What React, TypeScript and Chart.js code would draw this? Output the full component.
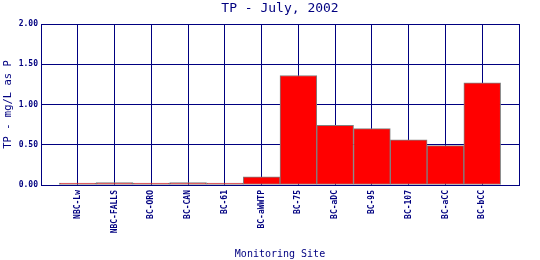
import React, { useEffect, useRef } from "react";
import { Chart, registerables } from "chart.js";

Chart.register(...registerables);

const sites = [
  "NBC-Lw",
  "NBC-FALLS",
  "BC-ORO",
  "BC-CAN",
  "BC-61",
  "BC-aWWTP",
  "BC-75",
  "BC-aDC",
  "BC-95",
  "BC-107",
  "BC-aCC",
  "BC-bCC",
];
const tpValues = [0.005, 0.03, 0, 0.03, 0, 0.1, 1.36, 0.74, 0.7, 0.56, 0.49, 1.27];
const yTicks = [0, 0.5, 1.0, 1.5, 2.0];

const NAVY = "#000080";
const FONT = "'DejaVu Sans Mono', 'Liberation Mono', monospace";

export default function App() {
  const ref = useRef<HTMLCanvasElement | null>(null);
  useEffect(() => {
    document.body.style.margin = "0";
    const ctx = ref.current!;
    const chart = new Chart(ctx, {
      type: "bar",
      data: {
        datasets: [
          {
            data: sites.map((s, i) => ({ x: i + 1, y: tpValues[i] })),
            backgroundColor: "#ff0000",
            borderColor: "#808080",
            borderWidth: 1,
            borderSkipped: false,
            minBarLength: 2,
            barPercentage: 1,
            categoryPercentage: 1,
          },
        ],
      },
      options: {
        animation: false,
        responsive: false,
        maintainAspectRatio: false,
        layout: { padding: { left: 0, right: 21, top: 0, bottom: 0 } },
        plugins: {
          legend: { display: false },
          tooltip: { enabled: false },
          title: {
            display: true,
            text: "TP - July, 2002",
            color: NAVY,
            fullSize: false,
            font: { family: FONT, size: 13, weight: "normal" },
            padding: { top: 1, bottom: 7.4 },
          },
        },
        scales: {
          x: {
            type: "linear",
            min: 0,
            max: sites.length + 1,
            offset: false,
            grid: { color: NAVY, lineWidth: 1, drawTicks: false, offset: false },
            border: { color: NAVY, width: 1 },
            ticks: {
              stepSize: 1,
              autoSkip: false,
              minRotation: 90,
              maxRotation: 90,
              padding: 5,
              color: NAVY,
              font: { family: FONT, size: 8, weight: "bold" },
              callback: (v: any) => {
                const i = Number(v) - 1;
                return i >= 0 && i < sites.length ? sites[i] : "";
              },
            },
            title: {
              display: true,
              text: "Monitoring Site",
              color: NAVY,
              font: { family: FONT, size: 10 },
              padding: { top: 0, bottom: 0 },
            },
            afterFit: (s: any) => {
              s.height = 75;
            },
          },
          y: {
            min: 0,
            max: 2,
            grid: { color: NAVY, lineWidth: 1, drawTicks: false },
            border: { color: NAVY, width: 1 },
            afterBuildTicks: (s: any) => {
              s.ticks = yTicks.map((v) => ({ value: v }));
            },
            ticks: {
              padding: 3,
              color: NAVY,
              font: { family: FONT, size: 8, weight: "bold" },
              callback: (v: any) => Number(v).toFixed(2),
            },
            title: {
              display: true,
              text: "TP - mg/L as P",
              color: NAVY,
              font: { family: FONT, size: 10.5 },
              padding: { top: 2, bottom: 0 },
            },
            afterFit: (s: any) => {
              s.width = 41;
            },
          },
        },
      },
    });
    return () => chart.destroy();
  }, []);
  return (
    <div style={{ position: "absolute", left: 0, top: 0, width: 540, height: 260 }}>
      <canvas ref={ref} width={540} height={260} style={{ width: 540, height: 260 }} />
    </div>
  );
}
